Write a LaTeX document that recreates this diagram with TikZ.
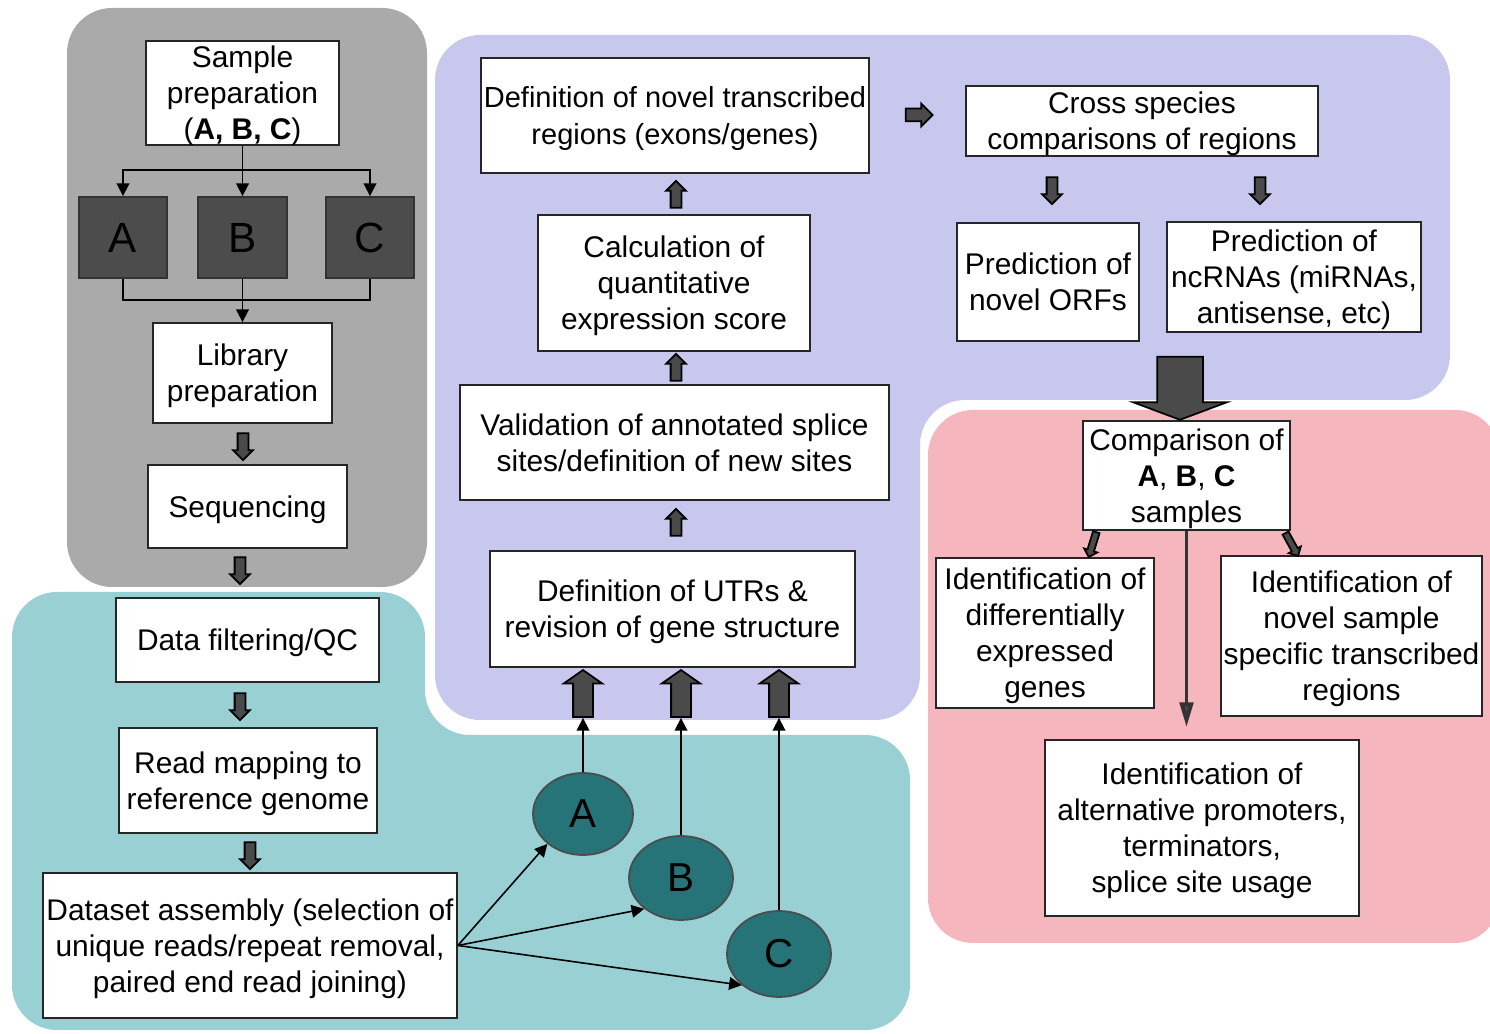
\documentclass[tikz,border=0pt]{standalone}
\usepackage{fontspec}
\setmainfont{Liberation Sans}
\usetikzlibrary{arrows.meta,shapes.geometric,shapes.arrows,calc}
\definecolor{panelgray}{RGB}{170,170,170}
\definecolor{panelblue}{RGB}{200,200,238}
\definecolor{panelteal}{RGB}{152,208,211}
\definecolor{panelpink}{RGB}{246,182,190}
\definecolor{darkbox}{RGB}{76,76,76}
\definecolor{sampleteal}{RGB}{38,116,120}
\definecolor{arrowfill}{RGB}{74,74,74}
\newdimen\px
\px=0.01cm
\newcommand{\boxfont}{\fontsize{8.5}{10.25}\selectfont}
\tikzset{
  box/.style={draw=black!85, line width=0.5pt, fill=white, align=center,
    inner sep=0pt, text depth=0pt, font=\boxfont},
  samplebox/.style={draw=black!80, line width=0.5pt, fill=darkbox,
    minimum width=88\px, minimum height=81\px, font=\fontsize{12}{14}\selectfont},
  samplenode/.style={ellipse, draw=black!70, line width=0.5pt, fill=sampleteal,
    inner sep=0pt, font=\fontsize{11.5}{14}\selectfont},
  thinarrow/.style={draw=black, line width=0.45pt, -{Triangle[length=3.6pt,width=3.6pt]}},
  blockarrow/.style={single arrow, draw=black, line width=0.5pt, fill=arrowfill,
    inner xsep=0pt, inner ysep=4.5\px, minimum height=27\px, minimum width=18\px,
    single arrow head extend=4.5\px},
  widearrow/.style={blockarrow, minimum height=47\px, minimum width=37\px,
    inner ysep=9\px, single arrow head extend=9.5\px, single arrow tip angle=110},
}

\begin{document}
\begin{tikzpicture}[x=0.01cm, y=-0.01cm]
  \useasboundingbox (0,0) rectangle (1490,1034);
  \fill[panelgray, rounded corners=45\px]
    (67,8) rectangle (427,587);
  \fill[panelteal, rounded corners=45\px]
    (12,592) -- (425,592) -- (425,735) -- (910,735) -- (910,1030) -- (12,1030) -- cycle;
  \fill[panelblue, rounded corners=45\px]
    (435,35) -- (1450,35) -- (1450,400) -- (920,400) -- (920,720) -- (435,720) -- cycle;
  \fill[panelpink, rounded corners=45\px]
    (928,410) -- (1500,410) -- (1500,943) -- (928,943) -- cycle;

  \node[box, minimum width=193\px, minimum height=104\px] (prep) at (242.5,93)
    {Sample\\preparation\\(\textbf{A, B, C})};
  \node[samplebox] (boxA) at (123,237.5) {A};
  \node[samplebox, minimum width=89\px] (boxB) at (242.5,237.5) {B};
  \node[samplebox] (boxC) at (370,237.5) {C};
  \node[box, minimum width=179\px, minimum height=100\px] (lib) at (242.5,373)
    {Library\\preparation};
  \node[box, minimum width=199\px, minimum height=83\px] (seq) at (247.5,506.5)
    {Sequencing};

  \node[box, minimum width=263\px, minimum height=84\px] (filter) at (247.5,640)
    {Data filtering/QC};
  \node[box, minimum width=258\px, minimum height=105\px] (map) at (248,780.5)
    {Read mapping to\\reference genome};
  \node[box, minimum width=414\px, minimum height=145\px] (data) at (250,945.5)
    {Dataset assembly (selection of\\unique reads/repeat removal,\\paired end read joining)};
  \node[samplenode, minimum width=100\px, minimum height=82\px] (circA) at (583,814) {A};
  \node[samplenode, minimum width=104\px, minimum height=84\px] (circB) at (681,878) {B};
  \node[samplenode, minimum width=104\px, minimum height=86\px] (circC) at (779,954) {C};

  \node[box, minimum width=388\px, minimum height=115\px,
    font=\fontsize{8.25}{10.25}\selectfont] (novel) at (675,115.5)
    {Definition of novel transcribed\\regions (exons/genes)};
  \node[box, minimum width=352\px, minimum height=70\px] (cross) at (1142,121)
    {Cross species\\comparisons of regions};
  \node[box, minimum width=182\px, minimum height=118\px] (orf) at (1048,282)
    {Prediction of\\novel ORFs};
  \node[box, minimum width=254\px, minimum height=110\px] (ncrna) at (1294,277)
    {Prediction of\\ncRNAs (miRNAs,\\antisense, etc)};
  \node[box, minimum width=272\px, minimum height=136\px] (calc) at (674,283)
    {Calculation of\\quantitative\\expression score};
  \node[box, minimum width=429\px, minimum height=115\px] (valid) at (674.5,442.5)
    {Validation of annotated splice\\sites/definition of new sites};
  \node[box, minimum width=365\px, minimum height=116\px] (utr) at (672.5,609)
    {Definition of UTRs \&\\revision of gene structure};

  \node[box, minimum width=207\px, minimum height=109\px] (comp) at (1186.5,475.5)
    {Comparison of\\\textbf{A}, \textbf{B}, \textbf{C}\\samples};
  \node[box, minimum width=218\px, minimum height=150\px] (diff) at (1045,633)
    {Identification of\\differentially\\expressed\\genes};
  \node[box, minimum width=261\px, minimum height=160\px] (spec) at (1351.5,636)
    {Identification of\\novel sample\\specific transcribed\\regions};
  \node[box, minimum width=314\px, minimum height=176\px] (alt) at (1202,828)
    {Identification of\\alternative promoters,\\terminators,\\splice site usage};

  \coordinate (split) at (242.5,170);
  \coordinate (merge) at (242.5,300);
  \draw[thinarrow] (prep.south) -- (boxB.north);
  \draw[thinarrow] (split) -| (boxA.north);
  \draw[thinarrow] (split) -| (boxC.north);
  \draw[line width=0.45pt] (boxA.south) |- (merge) -| (boxC.south);
  \draw[thinarrow] (boxB.south) -- (lib.north);

  \node[blockarrow, rotate=-90] (libseq) at (243,444) {};
  \node[blockarrow, rotate=-90] (seqfilter) at (240,568) {};
  \node[blockarrow, rotate=-90] (filtermap) at (240,704) {};
  \node[blockarrow, rotate=-90] (mapdata) at (250,853) {};

  \node[blockarrow, minimum width=22\px, inner ysep=5.5\px,
    single arrow head extend=5\px] (novelcross) at (916,115) {};
  \node[blockarrow, rotate=-90] (crossorf) at (1052,188) {};
  \node[blockarrow, rotate=-90] (crossnc) at (1260,188) {};
  \node[blockarrow, rotate=90] (calcnovel) at (676,197) {};
  \node[blockarrow, rotate=90] (validcalc) at (676,370) {};
  \node[blockarrow, rotate=90] (utrvalid) at (676,525) {};
  \node[blockarrow, rotate=-90, minimum height=63\px, minimum width=92\px, inner ysep=22\px,
    single arrow head extend=24\px, single arrow tip angle=139] (bigdown) at (1180,384) {};

  \node[widearrow, rotate=90] (utrA) at (583,697) {};
  \node[widearrow, rotate=90] (utrB) at (681,697) {};
  \node[widearrow, rotate=90] (utrC) at (779,697) {};
  \draw[thinarrow] (data.east) -- (circA.220);
  \draw[thinarrow] (data.east) -- (circB.220);
  \draw[thinarrow] (data.east) -- (circC.220);
  \draw[thinarrow] (circA) -- (utrA.tail);
  \draw[thinarrow] (circB) -- (utrB.tail);
  \draw[thinarrow] (circC) -- (utrC.tail);

  \node[blockarrow, rotate=-107, minimum height=26\px, minimum width=12\px,
    inner ysep=2.5\px, single arrow head extend=3.5\px] (compdiff) at (1093,543) {};
  \node[blockarrow, rotate=-61, minimum height=26\px, minimum width=12\px,
    inner ysep=2.5\px, single arrow head extend=3.5\px] (compspec) at (1291,543) {};
  \draw[line width=1.1pt, draw=black!80, shorten >=12\px,
    -{Triangle[length=7pt,width=3.8pt,fill=arrowfill]}]
    (comp.south) -- (comp.south |- alt.north);
\end{tikzpicture}
\end{document}
